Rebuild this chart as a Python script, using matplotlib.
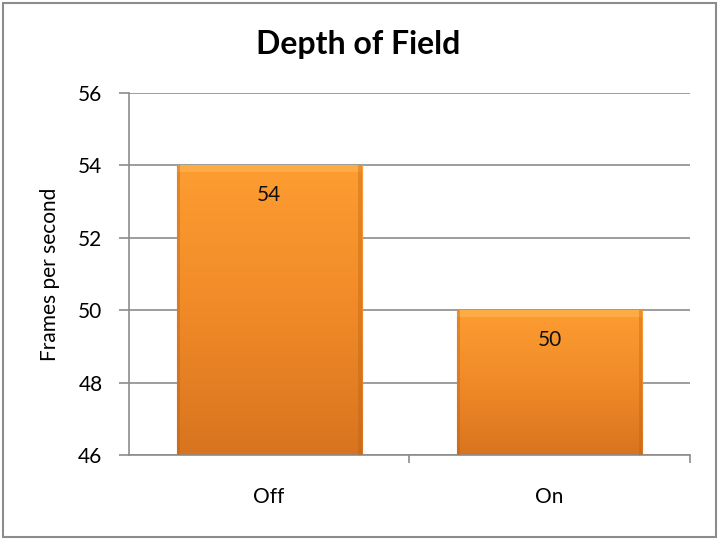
import numpy as np
import matplotlib.pyplot as plt
from matplotlib.colors import LinearSegmentedColormap
from matplotlib.patches import Rectangle

plt.rcParams['font.family'] = ['Lato', 'DejaVu Sans']

categories = ["Off", "On"]
fps = [54, 50]
y_ticks = [46, 48, 50, 52, 54, 56]

fig = plt.figure(figsize=(7.2, 5.4), dpi=100)
ax = fig.add_axes([0.179, 0.157, 0.779, 0.671])

x = np.arange(len(categories))
bars = ax.bar(x, fps, width=0.66, bottom=0, color="#F28C28",
              edgecolor="#C8691A", linewidth=0.8, zorder=2)

ax.set_ylim(46, 56)
ax.set_xlim(-0.5, len(categories) - 0.5)

# vertical orange gradient inside each bar
cmap = LinearSegmentedColormap.from_list("orange", ["#D8741F", "#F08A28", "#FD9D31"])
grad = np.linspace(0, 1, 256).reshape(-1, 1)
for b in bars:
    x0, w = b.get_x(), b.get_width()
    top = b.get_height()
    im = ax.imshow(grad, extent=[x0, x0 + w, 46, top], origin="lower",
                   cmap=cmap, aspect="auto", zorder=2.5)
    im.set_clip_path(b)
    # light bevel at top, darker bevel on the sides
    ax.add_patch(Rectangle((x0, top - 0.18), w, 0.18, facecolor="#FFC060",
                           alpha=0.45, edgecolor="none", zorder=2.6))
    for sx in (x0, x0 + w - 0.012):
        ax.add_patch(Rectangle((sx, 46), 0.012, top - 46, facecolor="#B85E14",
                               alpha=0.35, edgecolor="none", zorder=2.6))
ax.set_xlim(-0.5, len(categories) - 0.5)
ax.set_ylim(46, 56)

for xi, v in zip(x, fps):
    ax.text(xi, v - 0.82, f"{v}", ha="center", va="center", fontsize=15,
            color="#111111", zorder=3)

ax.set_yticks(y_ticks)
ax.set_yticklabels([str(t) for t in y_ticks], fontsize=15)
ax.set_xticks(x)
ax.set_xticklabels(categories, fontsize=15)
ax.set_xticks([0.5, 1.5], minor=True)
ax.tick_params(axis="x", which="major", length=0, pad=23)
ax.tick_params(axis="x", which="minor", length=6, color="#8C8C8C", width=1.2)
ax.tick_params(axis="y", length=7, color="#8C8C8C", width=1.2, pad=12)

ax.grid(axis="y", color="#8C8C8C", linewidth=1.2, zorder=0)
ax.set_axisbelow(True)
for s in ["top", "right"]:
    ax.spines[s].set_visible(False)
for s in ["left", "bottom"]:
    ax.spines[s].set_color("#8C8C8C")
    ax.spines[s].set_linewidth(1.2)

ax.set_ylabel("Frames per second", fontsize=15, labelpad=13)
fig.text(0.497, 0.918, "Depth of Field", ha="center", va="center",
         fontsize=23, fontweight="bold")

fig.patches.append(Rectangle((0.004, 0.005), 0.991, 0.99, transform=fig.transFigure,
                             fill=False, edgecolor="#8C8C8C", linewidth=1.5))

fig.savefig("out.png", dpi=100)
